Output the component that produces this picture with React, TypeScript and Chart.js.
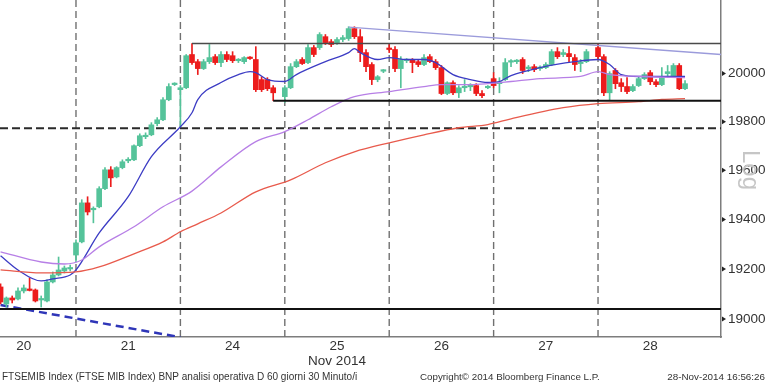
import React, { useEffect, useRef } from 'react';
import { Chart, registerables } from 'chart.js';

Chart.register(...registerables);

// ---- 30-minute bars (index 0 = first visible bar, 20 Nov afternoon) ----
const OPEN = [
  19128, 19060, 19084, 19080, 19112, 19118, 19116, 19076, 19072, 19148, 19176, 19192, 19200,
  19256, 19309, 19467, 19439, 19451, 19525, 19602, 19573, 19611, 19639, 19643, 19701, 19738, 19746, 19792, 19808, 19891, 19954,
  19933, 19941, 20080, 20050, 20021, 20050, 20071, 20046, 20080, 20075, 20054, 20050, 20067, 20059, 19975, 19975, 19941, null,
  19904, 19941, 20029, 20059, 20046, 20109, 20109, 20155, 20134, 20130, 20143, 20147, 20189, 20155, 20088, 20038, 19975, 20010,
  20105, 20101, 20021, 20054, 20059, 20050, 20038, 20071, 20050, 20025, 19917, 19962, 19920, 19941, 19945, 19950, 19917, 19941,
  19979, 19958, 19975, 20048, 20050, 20059, 20021, 20029, 20021, 20025, 20038, 20092, 20080, 20084, 20067, 20042, 20050, null,
  20109, 20071, 19920, 20013, 19962, 19946, 19929, 19950, 19979, 20004, 19966, 19954, 20000, 19987, 20034, 19937,
];
const HIGH = [
  19140, 19088, 19092, 19124, 19136, 19164, 19120, 19092, 19156, 19188, 19248, 19212, 19216,
  19317, 19480, 19492, 19451, 19533, 19611, 19615, 19615, 19643, 19652, 19705, 19750, 19754, 19796, 19817, 19900, 19958, 19962,
  19950, 20080, 20126, 20059, 20059, 20122, 20080, 20092, 20092, 20092, 20063, 20071, 20071, 20113, 19987, 19983, 19950, null,
  19950, 20042, 20059, 20067, 20122, 20118, 20172, 20164, 20143, 20151, 20160, 20197, 20197, 20185, 20101, 20046, 19992, 20017,
  20122, 20113, 20071, 20063, 20063, 20059, 20080, 20080, 20059, 20034, 19966, 19970, 19950, 19975, 19958, 19958, 19929, 19950,
  20004, 19983, 20063, 20059, 20059, 20067, 20034, 20038, 20033, 20046, 20101, 20109, 20101, 20113, 20080, 20059, 20101, null,
  20126, 20080, 20008, 20021, 19979, 19983, 19954, 19987, 20004, 20013, 19975, 20025, 20034, 20042, 20042, 19971,
];
const LOW = [
  19060, 19048, 19064, 19076, 19104, 19112, 19068, 19048, 19068, 19144, 19172, 19184, 19192,
  19228, 19305, 19418, 19386, 19447, 19521, 19533, 19569, 19606, 19631, 19639, 19697, 19730, 19742, 19783, 19804, 19887, 19950,
  19780, 19937, 20038, 19996, 20017, 20042, 20038, 20029, 20050, 20046, 20046, 20042, 20059, 19925, 19925, 19929, 19887, null,
  19880, 19937, 20025, 20038, 20042, 20071, 20101, 20122, 20113, 20122, 20134, 20139, 20147, 20050, 20008, 19954, 19966, 20004,
  20088, 20008, 19941, 20046, 20004, 20029, 20033, 20046, 20017, 19912, 19912, 19912, 19900, 19925, 19929, 19908, 19900, 19937,
  19941, 19920, 19971, 20029, 20042, 20000, 20008, 20008, 20013, 20021, 20033, 20063, 20071, 20050, 20013, 20008, 20046, null,
  20059, 19908, 19891, 19937, 19925, 19916, 19925, 19946, 19975, 19954, 19946, 19950, 19983, 19983, 19933, 19933,
];
const CLOSE = [
  19068, 19084, 19076, 19112, 19124, 19114, 19072, 19080, 19148, 19176, 19196, 19204, 19204,
  19305, 19467, 19430, 19443, 19525, 19602, 19569, 19611, 19635, 19643, 19701, 19742, 19742, 19787, 19808, 19891, 19946, 19958,
  19941, 20075, 20046, 20021, 20050, 20067, 20046, 20080, 20059, 20054, 20059, 20067, 20063, 19933, 19933, 19937, 19920, null,
  19941, 20029, 20050, 20042, 20109, 20080, 20164, 20130, 20122, 20143, 20151, 20189, 20155, 20088, 20029, 19975, 19987, 20015,
  20101, 20021, 20059, 20059, 20046, 20038, 20067, 20050, 20025, 19917, 19962, 19920, 19941, 19947, 19948, 19917, 19908, 19946,
  19950, 19966, 20046, 20052, 20054, 20013, 20025, 20017, 20025, 20038, 20092, 20071, 20088, 20071, 20038, 20046, 20092, null,
  20071, 19920, 20000, 19958, 19946, 19925, 19946, 19979, 19996, 19966, 19954, 19983, 20008, 20034, 19937, 19958,
];

// ---- moving averages (bar index, value) ----
const MA_FAST_X = [0, 3, 7, 9, 12, 13, 17, 22, 26, 31, 33, 34, 38, 41, 43, 44, 46, 49, 51, 56, 60, 61, 62, 65, 67, 70, 73, 75, 78, 81, 84, 86, 88, 93, 99, 103, 105, 107, 110, 116, 118];
const MA_FAST = [19253, 19196, 19152, 19160, 19176, 19196, 19345, 19492, 19656, 19779, 19837, 19892, 19963, 19996, 20008, 20004, 19975, 19967, 19996, 20050, 20088, 20105, 20088, 20059, 20067, 20059, 20059, 20046, 19996, 19975, 19963, 19967, 19992, 20025, 20050, 20059, 20038, 19996, 19988, 19988, 19988];
const MA_MID_X = [0, 7, 11, 14, 17, 23, 28, 33, 38, 44, 49, 53, 57, 61, 67, 73, 76, 81, 84, 88, 93, 100, 103, 105, 111, 118];
const MA_MID = [19269, 19228, 19220, 19236, 19289, 19370, 19451, 19515, 19614, 19718, 19759, 19808, 19862, 19904, 19925, 19946, 19954, 19954, 19958, 19967, 19979, 19988, 20008, 19996, 19988, 19983];
const MA_SLOW_X = [0, 7, 13, 17, 23, 28, 31, 34, 38, 44, 50, 56, 61, 67, 73, 79, 84, 88, 97, 103, 110, 114, 118];
const MA_SLOW = [19196, 19184, 19188, 19208, 19261, 19309, 19350, 19382, 19426, 19512, 19561, 19631, 19676, 19713, 19746, 19775, 19788, 19812, 19858, 19875, 19883, 19892, 19896];

// ---- drawn levels / trend lines ----
const SUPPORT_LEVEL = 19887;
const SUPPORT_FROM = 47;
const RESIST_LEVEL = 20126;
const RESIST_FROM = 33;
const LOW_LEVEL = 19040;
const DASHED_LEVEL = 19773;
const DOWN_TREND_X = [0, 31];
const DOWN_TREND_Y = [19056, 18928];
const TOP_TREND_X = [60, 124.2];
const TOP_TREND_Y = [20195, 20080];

// ---- axes ----
const X_MIN = -0.1;
const X_MAX = 124.2;
const Y_MIN = 18929;
const Y_MAX = 20310;
const Y_TICKS = [19000, 19200, 19400, 19600, 19800, 20000];
const DAY_LABELS = ['20', '21', '24', '25', '26', '27', '28'];
const DAY_START = [-5, 13, 31, 49, 67, 85, 103];
const BARS_PER_DAY = 18;
const MONTH_LABEL = 'Nov 2014';
const MONTH_DAY = 3;

const FOOT_LEFT = 'FTSEMIB Index (FTSE MIB Index) BNP analisi operativa D 60 giorni 30 Minuto/i';
const FOOT_MID = 'Copyright\u00A9 2014 Bloomberg Finance L.P.';
const FOOT_RIGHT = '28-Nov-2014 16:56:26';
const SCALE_MODE = 'Log';

const UP = '#55c39a';
const DOWN = '#ec1c1c';
const FONT = '"Liberation Sans", Arial, sans-serif';

function buildConfig() {
  const idx = OPEN.map((_, i) => i).filter((i) => OPEN[i] != null);
  const colors = idx.map((i) => ((CLOSE[i] as number) >= (OPEN[i] as number) ? UP : DOWN));
  const bodies = idx.map((i) => ({ x: i, y: [OPEN[i], CLOSE[i]] }));
  const wicks = idx.map((i) => ({ x: i, y: [LOW[i], HIGH[i]] }));

  const line = (data: any[], color: string, width: number, dash: number[], order: number, extra: any = {}) => ({
    type: 'line',
    data,
    borderColor: color,
    backgroundColor: color,
    borderWidth: width,
    borderDash: dash,
    pointRadius: 0,
    pointHoverRadius: 0,
    fill: false,
    tension: 0,
    order,
    ...extra,
  });

  const seps = DAY_START.slice(1).map((s) =>
    line([{ x: s, y: Y_MIN }, { x: s, y: Y_MAX }], '#707070', 1.4, [7, 4], 20)
  );

  const ma = (xs: number[], ys: number[], color: string) =>
    line(xs.map((x, k) => ({ x, y: ys[k] })), color, 1.3, [], 5, { cubicInterpolationMode: 'monotone' });

  const datasets: any[] = [
    ...seps,
    line([{ x: X_MIN, y: DASHED_LEVEL }, { x: X_MAX, y: DASHED_LEVEL }], '#2a2a2a', 2, [8, 4], 15),
    line(DOWN_TREND_X.map((x, k) => ({ x, y: DOWN_TREND_Y[k] })), '#2f36b8', 2.5, [8, 5], 15),
    { type: 'bar', data: wicks, backgroundColor: colors, barThickness: 1, grouped: false, minBarLength: 1, order: 10 },
    { type: 'bar', data: bodies, backgroundColor: colors, barThickness: 5, grouped: false, minBarLength: 1.5, order: 9 },
    ma(MA_SLOW_X, MA_SLOW, '#e85a4c'),
    ma(MA_MID_X, MA_MID, '#b77fe6'),
    ma(MA_FAST_X, MA_FAST, '#3c3cc4'),
    line([{ x: SUPPORT_FROM, y: SUPPORT_LEVEL }, { x: X_MAX, y: SUPPORT_LEVEL }], '#111111', 2, [], 2),
    line([{ x: RESIST_FROM, y: RESIST_LEVEL }, { x: X_MAX, y: RESIST_LEVEL }], '#4a4a4a', 1.4, [], 2),
    line([{ x: X_MIN, y: LOW_LEVEL }, { x: X_MAX, y: LOW_LEVEL }], '#111111', 2, [], 2),
    line(TOP_TREND_X.map((x, k) => ({ x, y: TOP_TREND_Y[k] })), '#9b9bdb', 1.4, [], 2),
  ];

  const labelPos = DAY_START.map((s) => s + BARS_PER_DAY / 2);

  const decor = {
    id: 'decor',
    afterDraw(chart: any) {
      const ctx = chart.ctx;
      const y = chart.scales.y;
      const area = chart.chartArea;
      ctx.save();
      ctx.fillStyle = '#222';
      Y_TICKS.forEach((v) => {
        const py = y.getPixelForValue(v);
        ctx.beginPath();
        ctx.moveTo(area.right + 1, py - 2.5);
        ctx.lineTo(area.right + 5, py);
        ctx.lineTo(area.right + 1, py + 2.5);
        ctx.closePath();
        ctx.fill();
      });
      ctx.save();
      ctx.translate(750, 170);
      ctx.rotate(Math.PI / 2);
      ctx.font = `24px ${FONT}`;
      ctx.fillStyle = '#c6c6c6';
      ctx.textAlign = 'center';
      ctx.textBaseline = 'middle';
      ctx.fillText(SCALE_MODE, 0, 0);
      ctx.restore();
      ctx.fillStyle = '#333';
      ctx.textBaseline = 'middle';
      const fit = (text: string, x: number, w: number, align: string) => {
        ctx.font = `11px ${FONT}`;
        const m = ctx.measureText(text).width;
        const size = Math.min(12, (11 * w) / m);
        ctx.font = `${size}px ${FONT}`;
        ctx.textAlign = align;
        ctx.fillText(text, x, 377);
      };
      fit(FOOT_LEFT, 2, 356, 'left');
      fit(FOOT_MID, 420, 180, 'left');
      fit(FOOT_RIGHT, 765, 98, 'right');
      ctx.restore();
    },
  };

  return {
    type: 'bar',
    data: { datasets },
    plugins: [decor],
    options: {
      responsive: false,
      animation: false,
      devicePixelRatio: 1,
      events: [],
      layout: { padding: 0 },
      plugins: { legend: { display: false }, tooltip: { enabled: false } },
      scales: {
        x: {
          type: 'linear',
          min: X_MIN,
          max: X_MAX,
          bounds: 'data',
          offset: false,
          afterBuildTicks: (s: any) => {
            s.ticks = labelPos.map((v) => ({ value: v }));
          },
          afterFit: (s: any) => {
            s.height = 47;
            s.paddingLeft = 0;
            s.paddingRight = 0;
          },
          ticks: {
            autoSkip: false,
            maxRotation: 0,
            padding: 2,
            color: '#333',
            font: { family: FONT, size: 13.5, lineHeight: 1.1 },
            callback: (_v: any, i: number) => (i === MONTH_DAY ? [DAY_LABELS[i], MONTH_LABEL] : DAY_LABELS[i]),
          },
          grid: { display: false, drawTicks: false, offset: false },
          border: { display: true, color: '#7d7d7d', width: 1.5 },
        },
        y: {
          type: 'logarithmic',
          position: 'right',
          min: Y_MIN,
          max: Y_MAX,
          bounds: 'data',
          afterBuildTicks: (s: any) => {
            s.ticks = Y_TICKS.map((v) => ({ value: v }));
          },
          afterFit: (s: any) => {
            s.width = 47;
            s.paddingTop = 0;
            s.paddingBottom = 0;
          },
          ticks: {
            autoSkip: false,
            padding: 7,
            color: '#333',
            font: { family: FONT, size: 13.5 },
            callback: (v: any) => String(v),
          },
          grid: { display: false, drawTicks: false },
          border: { display: true, color: '#7d7d7d', width: 1.5 },
        },
      },
    },
  };
}

export default function App() {
  const ref = useRef<HTMLCanvasElement>(null);
  useEffect(() => {
    const chart = new Chart(ref.current as HTMLCanvasElement, buildConfig() as any);
    return () => chart.destroy();
  }, []);
  return (
    <div style={{ position: 'fixed', left: 0, top: 0, width: 768, height: 384, background: '#fff' }}>
      <canvas ref={ref} width={768} height={384} style={{ display: 'block', width: 768, height: 384 }} />
    </div>
  );
}
